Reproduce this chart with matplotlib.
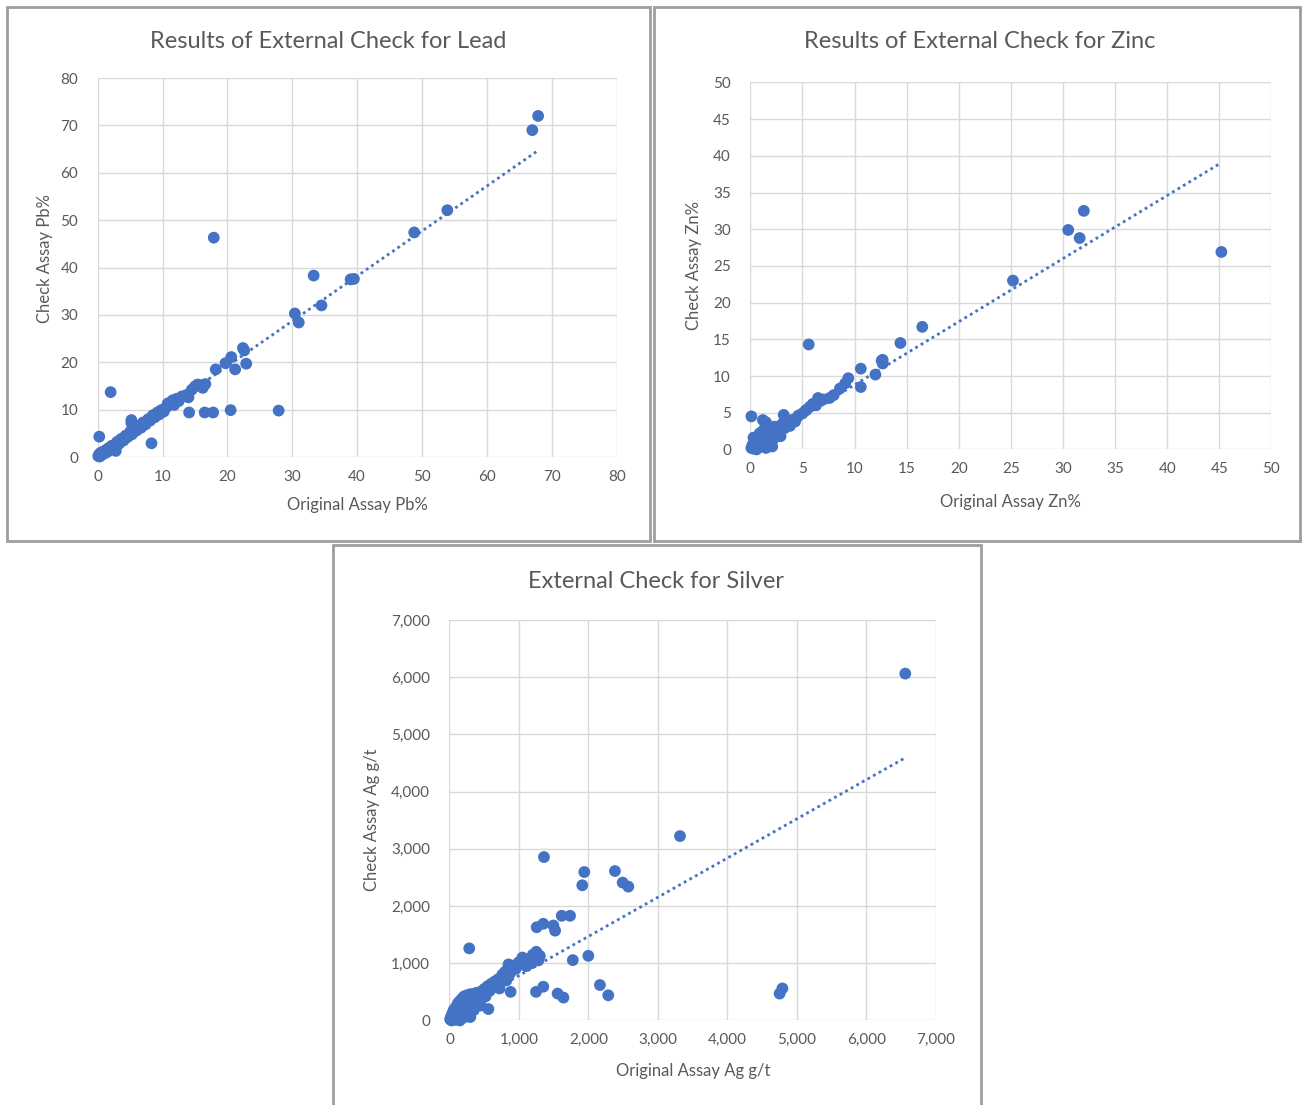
import matplotlib.pyplot as plt
from matplotlib.patches import Rectangle
from matplotlib.ticker import FuncFormatter
import numpy as np

plt.rcParams['font.family'] = ['Lato', 'DejaVu Sans']

BLUE = '#4472C4'
GREY_TXT = '#595959'
GRID = '#d9d9d9'

# Lead (Pb%) original vs check
pb_orig = [0.1, 0.2, 0.3, 0.4, 0.5, 0.6, 0.8, 1.0, 1.1, 1.3, 1.5, 1.7, 2.0, 2.2, 2.5, 2.8,
           3.0, 3.3, 3.6, 4.0, 4.3, 4.6, 5.0, 5.3, 5.6, 5.2, 6.0, 6.3, 6.7, 7.0, 7.4, 7.8,
           8.1, 8.5, 8.8, 9.2, 9.5, 9.8, 10.2, 10.5, 10.8, 11.0, 11.3, 11.6, 11.8, 12.2,
           12.5, 13.0, 13.7, 14.0, 14.5, 15.0, 15.4, 15.7, 16.2, 16.6, 0.25, 2.0, 5.2, 8.3,
           14.1, 16.5, 17.8, 20.5, 27.9, 17.9, 18.2, 19.7, 20.6, 21.2, 22.4, 22.6, 22.9,
           30.4, 31.0, 33.3, 34.5, 39.0, 39.5, 48.8, 53.9, 67.0, 67.9]
pb_check = [0.2, 0.5, 0.1, 0.8, 0.3, 1.0, 0.6, 1.2, 0.8, 1.5, 1.1, 1.9, 1.6, 2.4, 2.1, 1.3,
            3.2, 2.8, 3.8, 3.5, 4.5, 4.2, 5.3, 4.8, 5.9, 7.2, 5.6, 6.6, 6.2, 7.3, 6.9, 8.0,
            7.7, 8.8, 8.4, 9.4, 9.0, 9.9, 9.6, 10.4, 11.3, 10.9, 11.6, 12.0, 11.0, 12.3,
            11.8, 12.8, 13.1, 12.6, 14.2, 14.9, 15.3, 15.2, 14.6, 15.4, 4.3, 13.7, 7.8, 2.9,
            9.4, 9.4, 9.4, 9.9, 9.8, 46.3, 18.5, 19.8, 21.1, 18.5, 23.0, 22.5, 19.7,
            30.3, 28.4, 38.3, 32.0, 37.5, 37.6, 47.4, 52.1, 69.0, 72.0]
pb_trend = (0.95, 0.2)

# Zinc (Zn%) original vs check
zn_orig = [0.1, 0.2, 0.3, 0.4, 0.5, 0.6, 0.7, 0.8, 1.0, 1.1, 1.2, 1.3, 1.5, 1.5, 1.6, 1.8,
           1.9, 2.0, 2.2, 2.3, 2.5, 2.7, 2.9, 3.0, 3.3, 3.5, 3.8, 4.0, 4.3, 4.6, 5.0, 5.3,
           5.7, 6.0, 6.3, 6.5, 6.7, 7.0, 7.6, 8.0, 8.6, 9.1, 9.4, 0.1, 1.2, 3.2, 4.4, 5.4,
           10.6, 10.6, 12.0, 12.6, 12.7, 12.7, 14.4, 16.5, 5.6, 25.2, 30.5, 31.6, 32.0, 45.2,
           0.3, 0.9, 1.4, 2.1, 0.6]
zn_check = [0.2, 0.6, 0.1, 1.0, 0.4, 0.8, 1.5, 0.3, 1.9, 0.7, 2.5, 1.2, 0.2, 3.7, 1.7, 2.2,
            0.9, 2.8, 1.4, 3.1, 2.0, 2.6, 1.8, 3.4, 2.9, 3.6, 3.2, 4.0, 3.8, 4.6, 4.9, 5.3,
            5.8, 6.2, 6.0, 7.0, 6.6, 6.8, 7.0, 7.4, 8.3, 9.0, 9.7, 4.5, 4.0, 4.7, 4.2, 5.4,
            11.0, 8.5, 10.2, 12.1, 12.2, 11.7, 14.5, 16.7, 14.3, 23.0, 29.9, 28.8, 32.5, 26.9,
            1.6, 2.2, 2.9, 0.4, 0.0]
zn_trend = (0.86, 0.2)

# Silver (Ag g/t) original vs check
ag_orig = [10, 20, 30, 40, 50, 60, 70, 80, 90, 100, 110, 120, 130, 140, 150, 160, 170, 180,
           190, 200, 210, 220, 230, 240, 250, 260, 280, 300, 300, 320, 340, 360, 380, 400,
           420, 440, 470, 500, 520, 550, 560, 580, 600, 630, 650, 680, 700, 720, 740, 760,
           780, 800, 820, 840, 850, 870, 880, 900, 920, 950, 1000, 1050, 1100, 1150, 1180,
           1200, 1230, 1250, 1280, 1300, 285, 1245, 1255, 1350, 1350, 1360, 1495, 1520,
           1556, 1615, 1640, 1735, 1775, 1911, 1940, 1998, 2165, 2285, 2381, 2492, 2573,
           3317, 4750, 4790, 6558, 150, 250, 350, 450]
ag_check = [20, 60, 0, 120, 40, 180, 90, 10, 230, 140, 60, 300, 200, 100, 340, 250, 30, 380,
            150, 300, 420, 60, 220, 330, 440, 280, 380, 60, 460, 300, 420, 350, 480, 400,
            300, 500, 450, 550, 420, 600, 200, 520, 640, 580, 680, 620, 720, 560, 700, 800,
            750, 850, 700, 900, 980, 820, 500, 880, 960, 900, 1020, 1100, 950, 1080, 1000,
            1150, 1150, 1200, 1050, 1130, 1260, 500, 1630, 1690, 590, 2857, 1660, 1570,
            470, 1830, 400, 1830, 1055, 2363, 2595, 1130, 620, 440, 2612, 2410, 2340,
            3223, 470, 560, 6063, 0, 100, 180, 260]
ag_trend = (0.685, 100)

fig = plt.figure(figsize=(13.02, 11.05), dpi=100)

# panel frames (pixel boxes: x0, y0, x1, y1 from top-left)
for (x0, y0, x1, y1) in [(7, 7, 650, 541), (654, 7, 1300, 541), (333, 545, 981, 1112)]:
    fig.patches.append(Rectangle((x0 / 1302, 1 - y1 / 1105), (x1 - x0) / 1302, (y1 - y0) / 1105,
                                 transform=fig.transFigure, fill=False,
                                 edgecolor='#9e9e9e', linewidth=2, zorder=0))


def panel(rect, xs, ys, trend, lim, step, title, title_xy, xlab, xlab_xy, ylab, ylab_xy,
          comma=False, ms=72):
    ax = fig.add_axes(rect)
    ax.set_xlim(0, lim)
    ax.set_ylim(0, lim)
    ticks = np.arange(0, lim + step / 2, step)
    ax.set_xticks(ticks)
    ax.set_yticks(ticks)
    if comma:
        fmt = FuncFormatter(lambda v, p: f"{int(v):,}")
        ax.xaxis.set_major_formatter(fmt)
        ax.yaxis.set_major_formatter(fmt)
    ax.grid(True, color=GRID, linewidth=1)
    ax.set_axisbelow(True)
    for s in ax.spines.values():
        s.set_visible(False)
    ax.tick_params(length=0, labelsize=11, labelcolor=GREY_TXT)
    ax.tick_params(axis='x', pad=9)
    ax.tick_params(axis='y', pad=14)
    ax.scatter(xs, ys, s=ms, color=BLUE, edgecolors='none', zorder=3, clip_on=False)
    tx = np.array([min(xs), max(xs)])
    ax.plot(tx, trend[0] * tx + trend[1], color=BLUE, linestyle=(0, (1, 1.3)),
            linewidth=2, zorder=2)
    fig.text(title_xy[0] / 1302, 1 - title_xy[1] / 1105, title, ha='center', va='center',
             fontsize=17, color=GREY_TXT)
    fig.text(xlab_xy[0] / 1302, 1 - xlab_xy[1] / 1105, xlab, ha='center', va='center',
             fontsize=12, color=GREY_TXT)
    fig.text(ylab_xy[0] / 1302, 1 - ylab_xy[1] / 1105, ylab, ha='center', va='center',
             fontsize=12, color=GREY_TXT, rotation=90)
    return ax


panel([0.0750, 0.5864, 0.3986, 0.3430], pb_orig, pb_check, pb_trend, 80, 10,
      'Results of External Check for Lead', (328, 41),
      'Original Assay Pb%', (357, 505), 'Check Assay Pb%', (45, 258))

panel([0.5763, 0.5933, 0.4002, 0.3321], zn_orig, zn_check, zn_trend, 50, 5,
      'Results of External Check for Zinc', (980, 42),
      'Original Assay Zn%', (1010, 502), 'Check Assay Zn%', (694, 265))

panel([0.3452, 0.0765, 0.3737, 0.3624], ag_orig, ag_check, ag_trend, 7000, 1000,
      'External Check for Silver', (656, 581),
      'Original Assay Ag g/t', (693, 1071), 'Check Assay Ag g/t', (372, 820), comma=True)

fig.savefig('out.png', dpi=100)
